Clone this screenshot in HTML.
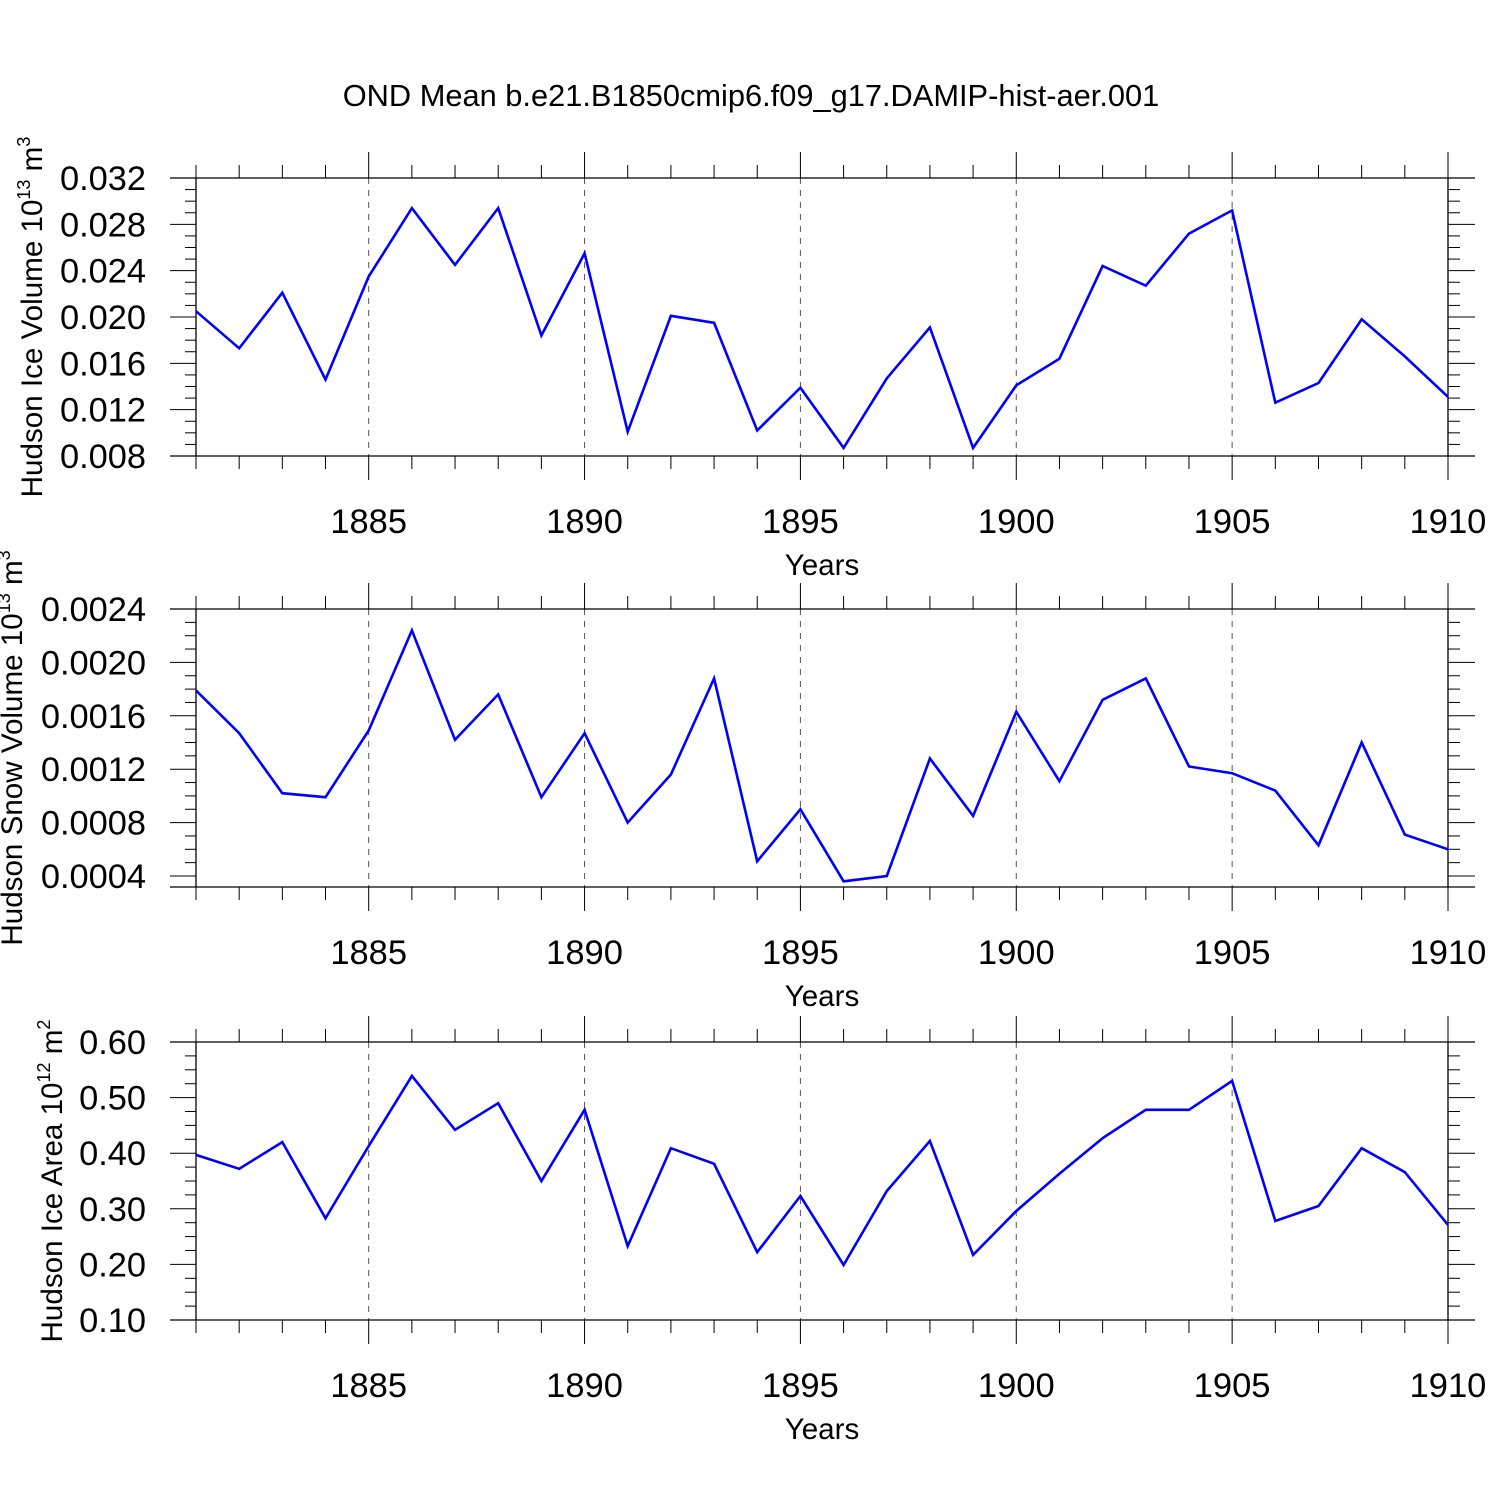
<!DOCTYPE html>
<html><head><meta charset="utf-8"><style>
html,body{margin:0;padding:0;background:#fff;}
svg{display:block;font-family:"Liberation Sans",sans-serif;}
</style></head><body>
<svg id="chart" width="1500" height="1500" viewBox="0 0 1500 1500" xmlns="http://www.w3.org/2000/svg">
<text x="751" y="106" font-size="30.8" text-anchor="middle">OND Mean b.e21.B1850cmip6.f09_g17.DAMIP-hist-aer.001</text>
</svg>
<script>
const years = [1881,1882,1883,1884,1885,1886,1887,1888,1889,1890,1891,1892,1893,1894,1895,1896,1897,1898,1899,1900,1901,1902,1903,1904,1905,1906,1907,1908,1909,1910];
const iceVolume = [0.0205,0.0173,0.0221,0.0146,0.0235,0.0294,0.0245,0.0294,0.0184,0.0255,0.0101,0.0201,0.0195,0.0102,0.0139,0.0087,0.0147,0.0191,0.0087,0.0141,0.0164,0.0244,0.0227,0.0272,0.0292,0.0126,0.0143,0.0198,0.0166,0.0131];
const snowVolume = [0.00179,0.00147,0.00102,0.00099,0.00149,0.00224,0.00142,0.00176,0.00099,0.00147,0.00080,0.00116,0.00188,0.00051,0.00090,0.00036,0.00040,0.00128,0.00085,0.00163,0.00111,0.00172,0.00188,0.00122,0.00117,0.00104,0.00063,0.00140,0.00071,0.00060];
const iceArea = [0.397,0.372,0.420,0.283,0.413,0.539,0.442,0.490,0.350,0.478,0.233,0.409,0.381,0.222,0.323,0.199,0.332,0.422,0.217,0.296,0.363,0.427,0.478,0.478,0.530,0.278,0.305,0.409,0.366,0.271];
const xTicks = [1885,1890,1895,1900,1905,1910];
const iceVolTicks = ["0.008","0.012","0.016","0.020","0.024","0.028","0.032"];
const snowTicks = ["0.0004","0.0008","0.0012","0.0016","0.0020","0.0024"];
const areaTicks = ["0.10","0.20","0.30","0.40","0.50","0.60"];

const svg = document.getElementById('chart');
const NS = 'http://www.w3.org/2000/svg';
function mk(tag, attrs, parent){const e=document.createElementNS(NS,tag);for(const k in attrs)e.setAttribute(k,attrs[k]);(parent||svg).appendChild(e);return e;}
const X0=196,X1=1448;
const xs = y => X0+(y-1881)/(1910-1881)*(X1-X0);

function panel(name, top, bottom, ymin, ymax, ticks, vals, ylabelParts, ylabelX){
  const g=mk('g',{});
  
  
  const ys = v => bottom-(v-ymin)/(ymax-ymin)*(bottom-top);
  xTicks.forEach(t=>{ if(t<1910){ const l=mk('line',{x1:xs(t),x2:xs(t),y1:top,y2:bottom,stroke:'#555','stroke-width':1,'stroke-dasharray':'6,6'},g);
     }});
  mk('line',{x1:170,x2:1475,y1:top,y2:top,stroke:'#000','stroke-width':1.3},g);
  mk('line',{x1:170,x2:1475,y1:bottom,y2:bottom,stroke:'#000','stroke-width':1.3},g);
  mk('line',{x1:X0,x2:X0,y1:top,y2:bottom,stroke:'#000','stroke-width':1.3},g);
  mk('line',{x1:X1,x2:X1,y1:top,y2:bottom,stroke:'#000','stroke-width':1.3},g);
  for(let y=1881;y<=1910;y++){
    const maj = xTicks.includes(y);
    const x=xs(y);
    mk('line',{x1:x,x2:x,y1:top-(maj?26:13),y2:top,stroke:'#000','stroke-width':1},g);
    mk('line',{x1:x,x2:x,y1:bottom,y2:bottom+(maj?24:13),stroke:'#000','stroke-width':1},g);
  }
  xTicks.forEach(t=>{const tx=mk('text',{x:xs(t),y:bottom+77,'font-size':34.5,'text-anchor':'middle'},g);tx.textContent=t;
     });
  const xt=mk('text',{x:822,y:bottom+119,'font-size':29.6,'text-anchor':'middle'},g); xt.textContent='Years';
   
  const n=ticks.length;
  const first=parseFloat(ticks[0]), step=(parseFloat(ticks[n-1])-first)/(n-1);
  for(let i=0;i<n;i++){
    const v=first+i*step, y=ys(v);
    mk('line',{x1:170,x2:X0,y1:y,y2:y,stroke:'#000','stroke-width':1},g);
    mk('line',{x1:X1,x2:1475,y1:y,y2:y,stroke:'#000','stroke-width':1},g);
    const tx=mk('text',{x:146,y:y+12,'font-size':34.4,'text-anchor':'end'},g); tx.textContent=ticks[i];
     
    for(let k=1;k<4;k++){ const vm=v+k*step/4, ym=ys(vm); if(ym<top-1) break;
      mk('line',{x1:185,x2:X0,y1:ym,y2:ym,stroke:'#000','stroke-width':1},g);
      mk('line',{x1:X1,x2:1460,y1:ym,y2:ym,stroke:'#000','stroke-width':1},g);}
    if(i===0){ for(let k=1;k<4;k++){ const vm=v-k*step/4, ym=ys(vm); if(ym>bottom+1) break;
      mk('line',{x1:185,x2:X0,y1:ym,y2:ym,stroke:'#000','stroke-width':1},g);
      mk('line',{x1:X1,x2:1460,y1:ym,y2:ym,stroke:'#000','stroke-width':1},g);}}
  }
  const cy=(top+bottom)/2;
  const yl=mk('text',{x:0,y:0,'font-size':29.6,'text-anchor':'middle',transform:`translate(${ylabelX},${cy}) rotate(-90)`},g);
   
  yl.innerHTML=ylabelParts;
  const pts=vals.map((v,i)=>xs(years[i]).toFixed(1)+','+ys(v).toFixed(1)).join(' ');
  const pl=mk('polyline',{points:pts,fill:'none',stroke:'#0000ff','stroke-width':2.6,'stroke-linejoin':'miter'},g);
  
  
}
panel('ice-volume',178,456,0.008,0.032,iceVolTicks,iceVolume,
 'Hudson Ice Volume 10<tspan font-size="18" dy="-12">13</tspan><tspan dy="12"> m</tspan><tspan font-size="18" dy="-12">3</tspan>',42);
panel('snow-volume',609,887,0.0004-11/53.4*0.0004,0.0024,snowTicks,snowVolume,
 'Hudson Snow Volume 10<tspan font-size="18" dy="-12">13</tspan><tspan dy="12"> m</tspan><tspan font-size="18" dy="-12">3</tspan>',22);
panel('ice-area',1042,1320,0.10,0.60,areaTicks,iceArea,
 'Hudson Ice Area 10<tspan font-size="18" dy="-12">12</tspan><tspan dy="12"> m</tspan><tspan font-size="18" dy="-12">2</tspan>',62);
</script>
</body></html>
